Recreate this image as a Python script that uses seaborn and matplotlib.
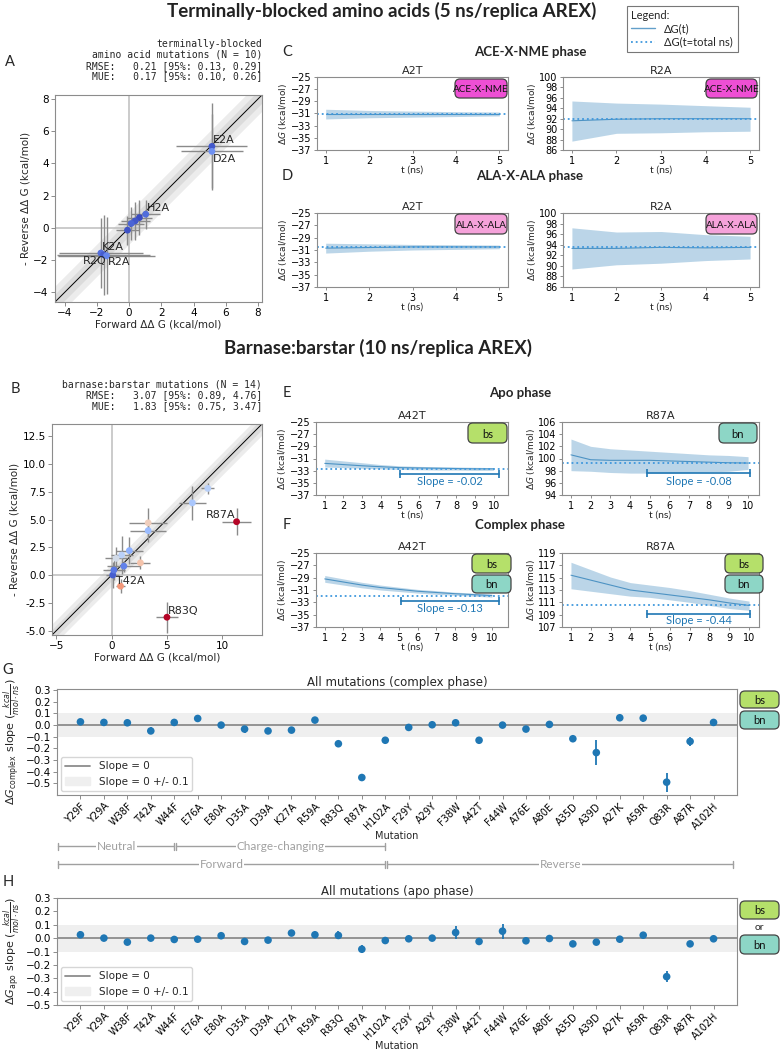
import numpy as np
import pandas as pd
import matplotlib
matplotlib.use("Agg")
import matplotlib.pyplot as plt
import seaborn as sns
from matplotlib.lines import Line2D
from matplotlib.patches import Patch, FancyBboxPatch
from matplotlib import transforms

# ---------------- data ----------------
# panel A: terminally-blocked amino acids, forward vs -reverse ddG
a_names = ["E2A", "D2A", "H2A", "", "", "", "", "K2A", "R2Q", "R2A"]
a_fwd = [5.14, 5.14, 1.03, 0.64, 0.37, 0.13, -0.10, -1.75, -1.58, -1.40]
a_rev = [5.06, 4.75, 0.85, 0.64, 0.43, 0.27, -0.14, -1.56, -1.67, -1.73]
a_fwd_err = [2.2, 1.9, 0.9, 0.8, 0.9, 0.8, 0.7, 2.6, 2.9, 3.0]
a_rev_err = [2.7, 2.3, 0.9, 1.1, 1.2, 1.0, 0.9, 2.2, 2.5, 2.4]

# panel B: barnase:barstar
b_names = ["R87A", "R83Q", "T42A", "", "", "", "", "", "", "", "", "", "", ""]
b_fwd = [11.3, 5.0, 0.1, 0.2, 1.1, 0.8, 2.6, 8.7, 7.3, 3.3, 3.3, 1.6, 0.9, 0.4]
b_rev = [4.8, -3.8, 0.0, 0.45, 0.8, -1.0, 1.1, 7.8, 6.5, 4.7, 4.0, 2.2, 1.8, 1.5]
b_fwd_err = [1.3, 1.0, 0.6, 1.0, 1.5, 0.4, 0.9, 0.6, 1.2, 1.7, 1.6, 1.2, 1.0, 1.0]
b_rev_err = [1.2, 1.4, 1.2, 0.9, 0.5, 0.6, 0.6, 0.5, 1.5, 1.3, 1.0, 1.2, 1.7, 1.0]

# panels C/D (5 ns)
t5 = [1, 2, 3, 4, 5]
c_a2t_mean = [-31.1, -31.1, -31.1, -31.1, -31.1]
c_a2t_lo = [-31.9, -31.7, -31.6, -31.5, -31.4]
c_a2t_hi = [-30.3, -30.5, -30.6, -30.7, -30.75]
c_a2t_final = -31.1
c_r2a_mean = [91.6, 91.9, 92.0, 92.0, 92.0]
c_r2a_lo = [87.7, 89.2, 89.3, 89.5, 89.6]
c_r2a_hi = [95.4, 95.0, 94.8, 94.5, 94.2]
c_r2a_final = 92.0
d_a2t_mean = [-30.7, -30.6, -30.5, -30.5, -30.5]
d_a2t_lo = [-31.5, -31.2, -31.0, -30.9, -30.8]
d_a2t_hi = [-29.9, -30.0, -30.1, -30.15, -30.2]
d_a2t_final = -30.45
d_r2a_mean = [93.3, 93.3, 93.5, 93.4, 93.5]
d_r2a_lo = [89.4, 90.2, 90.5, 91.0, 91.3]
d_r2a_hi = [97.2, 96.4, 96.5, 95.9, 95.6]
d_r2a_final = 93.6

# panels E/F (10 ns)
t10 = [1, 2, 3, 4, 5, 6, 7, 8, 9, 10]
e_a42t_mean = [-31.8, -32.0, -32.2, -32.35, -32.5, -32.55, -32.6, -32.65, -32.7, -32.7]
e_a42t_lo = [-32.4, -32.5, -32.6, -32.7, -32.8, -32.85, -32.9, -32.9, -32.95, -32.95]
e_a42t_hi = [-31.1, -31.4, -31.7, -32.0, -32.2, -32.3, -32.35, -32.4, -32.45, -32.5]
e_a42t_final = -32.65
e_r87a_mean = [100.6, 99.8, 99.7, 99.7, 99.7, 99.6, 99.5, 99.4, 99.3, 99.25]
e_r87a_lo = [98.0, 97.9, 97.7, 97.6, 97.6, 97.6, 97.7, 97.8, 97.9, 98.2]
e_r87a_hi = [103.2, 102.0, 101.6, 101.4, 101.2, 101.0, 100.8, 100.6, 100.5, 100.3]
e_r87a_final = 99.2
f_a42t_mean = [-29.2, -29.7, -30.2, -30.6, -30.9, -31.2, -31.4, -31.6, -31.75, -31.9]
f_a42t_lo = [-29.75, -30.2, -30.65, -31.0, -31.25, -31.5, -31.7, -31.85, -32.0, -32.15]
f_a42t_hi = [-28.65, -29.2, -29.75, -30.2, -30.55, -30.9, -31.1, -31.35, -31.5, -31.65]
f_a42t_final = -31.9
f_r87a_mean = [115.4, 114.6, 113.8, 113.0, 112.6, 112.2, 111.8, 111.4, 110.9, 110.5]
f_r87a_lo = [113.2, 112.8, 112.4, 112.0, 111.8, 111.4, 111.0, 110.5, 110.0, 109.7]
f_r87a_hi = [117.5, 116.3, 115.1, 114.2, 113.8, 113.4, 112.9, 112.3, 111.7, 111.2]
f_r87a_final = 110.5

# panels G/H: slopes for all mutations
mutations = ["Y29F", "Y29A", "W38F", "T42A", "W44F", "E76A", "E80A", "D35A", "D39A",
             "K27A", "R59A", "R83Q", "R87A", "H102A", "F29Y", "A29Y", "F38W", "A42T",
             "F44W", "A76E", "A80E", "A35D", "A39D", "A27K", "A59R", "Q83R", "A87R", "A102H"]
complex_slope = [0.028, 0.023, 0.02, -0.05, 0.023, 0.057, 0.0, -0.034, -0.05, -0.043,
                 0.043, -0.16, -0.45, -0.13, -0.02, 0.003, 0.02, -0.13, 0.0, -0.034,
                 0.006, -0.117, -0.236, 0.063, 0.06, -0.49, -0.14, 0.023]
complex_err = [0.01, 0.02, 0.01, 0.03, 0.01, 0.01, 0.01, 0.03, 0.015, 0.01,
               0.015, 0.015, 0.03, 0.015, 0.01, 0.01, 0.01, 0.01, 0.01, 0.01,
               0.01, 0.01, 0.105, 0.02, 0.03, 0.08, 0.04, 0.03]
apo_slope = [0.025, 0.0, -0.03, 0.0, -0.01, -0.008, 0.018, -0.025, -0.015, 0.038,
             0.025, 0.02, -0.083, -0.018, -0.005, 0.0, 0.042, -0.025, 0.052, -0.02,
             -0.003, -0.043, -0.03, -0.008, 0.022, -0.288, -0.043, -0.005]
apo_err = [0.025, 0.01, 0.025, 0.015, 0.02, 0.01, 0.02, 0.01, 0.01, 0.01,
           0.01, 0.03, 0.03, 0.01, 0.01, 0.01, 0.045, 0.01, 0.055, 0.01,
           0.01, 0.01, 0.01, 0.01, 0.02, 0.04, 0.01, 0.01]

# ---------------- style ----------------
sns.set_theme(style="ticks", rc={
    "axes.edgecolor": "#8c8c8c", "axes.linewidth": 0.8,
    "xtick.color": "#8c8c8c", "ytick.color": "#8c8c8c",
    "xtick.labelcolor": "black", "ytick.labelcolor": "black",
    "xtick.major.size": 3, "ytick.major.size": 3,
    "xtick.major.width": 0.7, "ytick.major.width": 0.7,
    "xtick.major.pad": 1.5, "ytick.major.pad": 1.5,
})
plt.rcParams["font.family"] = ["DejaVu Sans"]
SANS = ["Lato", "DejaVu Sans"]
BLUE = "#1f77b4"
DOT = "#3f98dd"
GREY = "#a0a0a0"

W, H = 780, 1050
fig = plt.figure(figsize=(7.8, 10.5), dpi=100)


def px_axes(x0, y0, x1, y1):
    return fig.add_axes([x0 / W, 1 - y1 / H, (x1 - x0) / W, (y1 - y0) / H])


def ftext(x, y, s, **kw):
    return fig.text(x / W, 1 - y / H, s, **kw)


def tag(x0, y0, x1, y1, s, color, fs=8):
    box = FancyBboxPatch((x0 / 100, (H - y1) / 100), (x1 - x0) / 100, (y1 - y0) / 100,
                         boxstyle="round,pad=0,rounding_size=0.05",
                         transform=fig.dpi_scale_trans, fc=color, ec="#444444", lw=0.9)
    fig.add_artist(box)
    ftext((x0 + x1) / 2, (y0 + y1) / 2 + 1, s, ha="center", va="center",
          fontsize=fs, family=SANS, color="#111111")


def scatter_panel(ax, fwd, rev, ferr, rerr, names, lim, offsets):
    df = pd.DataFrame({"fwd": fwd, "rev": rev, "name": names})
    df["dev"] = (df.rev - df.fwd).abs()
    xs = np.array(lim)
    ax.fill_between(xs, xs - 1, xs + 1, color="grey", alpha=0.15, lw=0)
    ax.fill_between(xs, xs - 0.5, xs + 0.5, color="grey", alpha=0.15, lw=0)
    ax.plot(xs, xs, color="black", lw=0.7)
    ax.axhline(0, color="#bdbdbd", lw=1.1)
    ax.axvline(0, color="#bdbdbd", lw=1.1)
    ax.errorbar(df.fwd, df.rev, xerr=ferr, yerr=rerr, fmt="none",
                ecolor="#8a8a8a", elinewidth=1.0, zorder=2)
    sns.scatterplot(data=df, x="fwd", y="rev", hue="dev", palette="coolwarm",
                    hue_norm=(0, 2.4), s=24, edgecolor="none", legend=False,
                    ax=ax, zorder=3)
    for _, r in df.iterrows():
        if r["name"] in offsets:
            dx, dy, ha, va = offsets[r["name"]]
            ax.annotate(r["name"], (r.fwd, r.rev), xytext=(dx, dy),
                        textcoords="offset points", ha=ha, va=va, fontsize=8)
    ax.set_xlim(lim)
    ax.set_ylim(lim)
    ax.set_xlabel("Forward ΔΔ G (kcal/mol)", fontsize=7.5, labelpad=1)
    ax.set_ylabel("- Reverse ΔΔ G (kcal/mol)", fontsize=7.5, labelpad=2)
    ax.tick_params(labelsize=7.5)


def ts_panel(ax, t, mean, lo, hi, final, ylim, yticks, title):
    df = pd.DataFrame({"t": t, "dg": mean})
    ax.fill_between(t, lo, hi, color=BLUE, alpha=0.3, lw=0)
    sns.lineplot(data=df, x="t", y="dg", color=BLUE, linewidth=0.8, alpha=0.7, ax=ax)
    ax.axhline(final, color=DOT, ls=":", lw=1.3)
    ax.set_ylim(ylim)
    ax.set_yticks(yticks)
    ax.set_xticks(t)
    ax.set_title(title, fontsize=8, pad=2)
    ax.set_ylabel(r"$\Delta G$ (kcal/mol)", fontsize=6.5, labelpad=1)
    ax.set_xlabel("t (ns)", fontsize=7.5, family=SANS, labelpad=0)
    ax.tick_params(labelsize=7, length=2.5)


def slope_mark(ax, x0, x1, y, ytext, label):
    ax.plot([x0, x1], [y, y], color=BLUE, lw=1.2, marker="|", markersize=6,
            markeredgewidth=1.2, clip_on=False)
    ax.text((x0 + x1) / 2, ytext, label, color=BLUE, ha="center", va="center",
            fontsize=8, family=SANS)


def slope_panel(ax, slopes, errs, ylim, title, ylabel):
    df = pd.DataFrame({"mutation": mutations, "slope": slopes})
    ax.axhspan(-0.1, 0.1, color="#efefef", lw=0)
    ax.axhline(0, color="#8c8c8c", lw=1.3)
    ax.errorbar(np.arange(len(mutations)), slopes, yerr=errs, fmt="none",
                ecolor=BLUE, elinewidth=1.3, zorder=2)
    sns.scatterplot(data=df, x="mutation", y="slope", color=BLUE, s=30,
                    edgecolor="none", ax=ax, zorder=3)
    ax.set_xlim(-1, len(mutations))
    ax.set_ylim(ylim)
    ax.set_yticks(np.round(np.arange(-0.5, 0.31, 0.1), 1))
    ax.set_xticks(np.arange(len(mutations)))
    ax.set_xticklabels(mutations, rotation=45, ha="right", rotation_mode="anchor")
    ax.tick_params(axis="y", labelsize=7.5)
    ax.tick_params(axis="x", labelsize=7)
    ax.set_title(title, fontsize=8.5, pad=2)
    ax.set_xlabel("Mutation", fontsize=7, labelpad=0)
    ax.set_ylabel(ylabel, fontsize=8, labelpad=2)
    handles = [Line2D([], [], color="#8c8c8c", lw=1.3), Patch(color="#efefef")]
    ax.legend(handles, ["Slope = 0", "Slope = 0 +/- 0.1"], loc="lower left",
              fontsize=7.5, handlelength=2.4, borderaxespad=0.4)


# ---------------- titles & legend ----------------
ftext(382, 11, "Terminally-blocked amino acids (5 ns/replica AREX)", ha="center",
      va="center", fontsize=13.5, weight="bold", family=SANS, color="#222222")
ftext(378, 348, "Barnase:barstar (10 ns/replica AREX)", ha="center",
      va="center", fontsize=13.5, weight="bold", family=SANS, color="#222222")
leg = fig.legend([Line2D([], [], color=BLUE, lw=1, alpha=0.7),
                  Line2D([], [], color=DOT, ls=":", lw=1.3)],
                 ["ΔG(t)", "ΔG(t=total ns)"], title="Legend:", loc="upper left",
                 bbox_to_anchor=(621 / W, 1.0), fancybox=False, edgecolor="#555555",
                 prop={"family": SANS, "size": 8}, title_fontproperties={"family": SANS, "size": 8},
                 alignment="left", handlelength=2.2, borderpad=0.4, labelspacing=0.2)
leg.get_frame().set_linewidth(0.8)

# ---------------- panel A ----------------
ftext(10, 62, "A", fontsize=10.5, family=SANS, va="center", ha="center")
axA = px_axes(55, 95, 262, 302)
scatter_panel(axA, a_fwd, a_rev, a_fwd_err, a_rev_err, a_names, (-4.6, 8.25),
              {"E2A": (1, 1, "left", "bottom"), "D2A": (1, -2, "left", "top"),
               "H2A": (1, 1, "left", "bottom"), "K2A": (1, 1, "left", "bottom"),
               "R2Q": (2, -1, "right", "top"), "R2A": (1, -1, "left", "top")})
axA.set_xticks(np.arange(-4, 9, 2))
axA.set_yticks(np.arange(-4, 9, 2))
axA.text(1.0, 1.065, "terminally-blocked\namino acid mutations (N = 10)\n"
         "RMSE:   0.21 [95%: 0.13, 0.29]\nMUE:   0.17 [95%: 0.10, 0.26]",
         transform=axA.transAxes, ha="right", va="bottom", multialignment="right",
         family="DejaVu Sans Mono", fontsize=7, linespacing=1.1)

# ---------------- panels C & D ----------------
ftext(287, 52, "C", fontsize=10.5, family=SANS, va="center", ha="center")
ftext(530, 52, "ACE-X-NME phase", fontsize=9.5, family=SANS, weight="bold", va="center", ha="center")
ax = px_axes(317, 77, 508, 150)
ts_panel(ax, t5, c_a2t_mean, c_a2t_lo, c_a2t_hi, c_a2t_final, (-37, -25), np.arange(-37, -24, 2), "A2T")
ax = px_axes(563, 77, 759, 150)
ts_panel(ax, t5, c_r2a_mean, c_r2a_lo, c_r2a_hi, c_r2a_final, (86, 100), np.arange(86, 101, 2), "R2A")
tag(455, 79, 507, 98, "ACE-X-NME", "#ee4fd4", fs=7.2)
tag(706, 79, 757, 98, "ACE-X-NME", "#ee4fd4", fs=7.2)

ftext(287, 176, "D", fontsize=10.5, family=SANS, va="center", ha="center")
ftext(530, 176, "ALA-X-ALA phase", fontsize=9.5, family=SANS, weight="bold", va="center", ha="center")
ax = px_axes(317, 213, 508, 287)
ts_panel(ax, t5, d_a2t_mean, d_a2t_lo, d_a2t_hi, d_a2t_final, (-37, -25), np.arange(-37, -24, 2), "A2T")
ax = px_axes(563, 213, 759, 287)
ts_panel(ax, t5, d_r2a_mean, d_r2a_lo, d_r2a_hi, d_r2a_final, (86, 100), np.arange(86, 101, 2), "R2A")
tag(455, 214, 507, 234, "ALA-X-ALA", "#f5a2da", fs=7.2)
tag(706, 214, 757, 234, "ALA-X-ALA", "#f5a2da", fs=7.2)

# ---------------- panel B ----------------
ftext(15, 389, "B", fontsize=10.5, family=SANS, va="center", ha="center")
axB = px_axes(52, 424, 262, 635)
scatter_panel(axB, b_fwd, b_rev, b_fwd_err, b_rev_err, b_names, (-5.4, 13.6),
              {"R87A": (-1, 1, "right", "bottom"), "R83Q": (1, 1, "left", "bottom"),
               "T42A": (2, -1, "left", "top")})
axB.set_xticks([-5, 0, 5, 10])
axB.set_yticks(np.arange(-5, 12.6, 2.5))
axB.yaxis.set_major_formatter(matplotlib.ticker.FormatStrFormatter("%.1f"))
axB.text(1.0, 1.06, "barnase:barstar mutations (N = 14)\n"
         "RMSE:   3.07 [95%: 0.89, 4.76]\nMUE:   1.83 [95%: 0.75, 3.47]",
         transform=axB.transAxes, ha="right", va="bottom", multialignment="right",
         family="DejaVu Sans Mono", fontsize=7, linespacing=1.1)

# ---------------- panels E & F ----------------
ftext(287, 393, "E", fontsize=10.5, family=SANS, va="center", ha="center")
ftext(520, 393, "Apo phase", fontsize=9.5, family=SANS, weight="bold", va="center", ha="center")
ax = px_axes(316, 422, 508, 495)
ts_panel(ax, t10, e_a42t_mean, e_a42t_lo, e_a42t_hi, e_a42t_final, (-37, -25), np.arange(-37, -24, 2), "A42T")
slope_mark(ax, 5, 10.3, -33.5, -34.8, "Slope = -0.02")
ax = px_axes(562, 422, 759, 495)
ts_panel(ax, t10, e_r87a_mean, e_r87a_lo, e_r87a_hi, e_r87a_final, (94, 106), np.arange(94, 107, 2), "R87A")
slope_mark(ax, 4.85, 10.1, 97.6, 96.3, "Slope = -0.08")
tag(468, 423, 507, 443, "bs", "#b5e06a")
tag(719, 423, 757, 443, "bn", "#8dd6c6")

ftext(287, 525, "F", fontsize=10.5, family=SANS, va="center", ha="center")
ftext(520, 525, "Complex phase", fontsize=9.5, family=SANS, weight="bold", va="center", ha="center")
ax = px_axes(316, 553, 508, 627)
ts_panel(ax, t10, f_a42t_mean, f_a42t_lo, f_a42t_hi, f_a42t_final, (-37, -25), np.arange(-37, -24, 2), "A42T")
slope_mark(ax, 5.1, 10.4, -32.8, -34.0, "Slope = -0.13")
ax = px_axes(562, 553, 759, 627)
ts_panel(ax, t10, f_r87a_mean, f_r87a_lo, f_r87a_hi, f_r87a_final, (107, 119), np.arange(107, 120, 2), "R87A")
slope_mark(ax, 4.85, 10.05, 109.1, 108.0, "Slope = -0.44")
tag(472, 554, 511, 573, "bs", "#b5e06a")
tag(472, 575, 511, 593, "bn", "#8dd6c6")
tag(725, 554, 763, 573, "bs", "#b5e06a")
tag(725, 575, 763, 593, "bn", "#8dd6c6")

# ---------------- panel G ----------------
ftext(8, 670, "G", fontsize=10.5, family=SANS, va="center", ha="center")
axG = px_axes(57, 689, 737, 795)
slope_panel(axG, complex_slope, complex_err, (-0.6, 0.31), "All mutations (complex phase)",
            r"$\Delta G_{\mathrm{complex}}$ slope ($\frac{kcal}{mol \cdot ns}$)")
tag(740, 691, 779, 708, "bs", "#b5e06a")
tag(740, 711, 779, 729, "bn", "#8dd6c6")

tr = transforms.blended_transform_factory(axG.transData, fig.transFigure)


def bracket(x0, x1, ypx, label):
    y = 1 - ypx / H
    h = 3.5 / H
    axG.plot([x0, x1], [y, y], transform=tr, color=GREY, lw=1, clip_on=False)
    for xe in (x0, x1):
        axG.plot([xe, xe], [y - h, y + h], transform=tr, color=GREY, lw=1, clip_on=False)
    axG.text((x0 + x1) / 2, y, label, transform=tr, ha="center", va="center",
             color=GREY, fontsize=8.5, family=SANS,
             bbox=dict(fc="white", ec="none", pad=0.5))


bracket(-0.95, 4.0, 846, "Neutral")
bracket(4.08, 13.0, 846, "Charge-changing")
bracket(-0.95, 13.0, 864, "Forward")
bracket(13.08, 27.85, 864, "Reverse")
axG.set_xlim(-1, len(mutations))

# ---------------- panel H ----------------
ftext(8, 882, "H", fontsize=10.5, family=SANS, va="center", ha="center")
axH = px_axes(57, 898, 737, 1005)
slope_panel(axH, apo_slope, apo_err, (-0.5, 0.3), "All mutations (apo phase)",
            r"$\Delta G_{\mathrm{apo}}$ slope ($\frac{kcal}{mol \cdot ns}$)")
tag(740, 901, 779, 919, "bs", "#b5e06a")
ftext(759, 928, "or", ha="center", va="center", fontsize=7.5, family=SANS)
tag(740, 935, 779, 954, "bn", "#8dd6c6")

fig.savefig("out.png", dpi=100)
